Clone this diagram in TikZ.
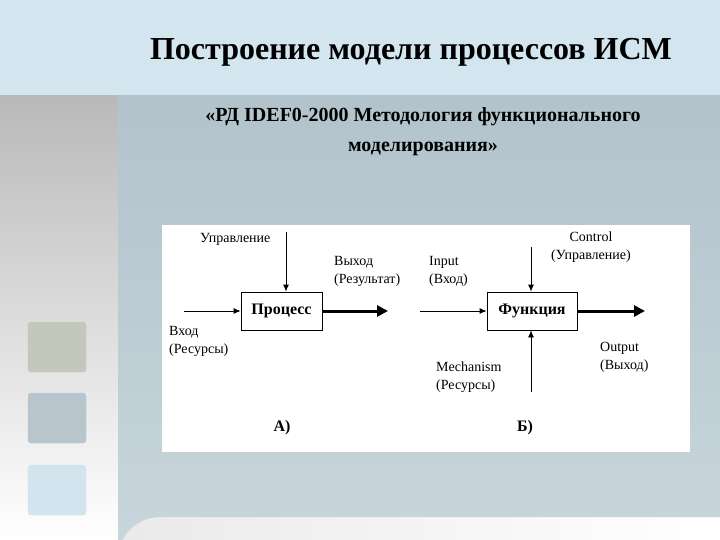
\documentclass[tikz,border=0pt]{standalone}
\usepackage{fontspec}
\setmainfont{Liberation Serif}
\usetikzlibrary{arrows.meta}
\definecolor{band}{HTML}{D3E6EF}
\definecolor{panel}{HTML}{B2C3CC}
\definecolor{panelL}{HTML}{C9D6DC}
\definecolor{sqA}{HTML}{C3C8BD}
\definecolor{sqB}{HTML}{B8C5CC}
\definecolor{sqC}{HTML}{D2E5EE}
\begin{document}
\begin{tikzpicture}[x=1pt,y=-1pt,
  lbl/.style={font=\fontsize{14}{18}\selectfont,align=left,inner sep=0pt},
  boxn/.style={draw,thick,minimum height=38pt,font=\bfseries\fontsize{16}{18}\selectfont,inner sep=0pt},
  thin arrow/.style={-{Latex[length=7pt,width=6pt]},thick},
  fat arrow/.style={-{Triangle[length=11pt,width=11pt]},line width=3pt},
  sq/.style={rounded corners=3pt,draw=gray!60}]
\useasboundingbox (0,0) rectangle (720,540);
\shade[left color=white!80!gray, right color=white] (0,0) rectangle (720,540);
\shade[top color=gray!55!white, bottom color=white] (0,95) rectangle (118,540);
\fill[band] (0,0) rectangle (720,95);
\shade[top color=panel, bottom color=panelL] (118,95) -- (720,95) -- (720,517) -- (160,517) arc (90:180:42pt) -- cycle;
\node[font=\bfseries\fontsize{32}{36}\selectfont] (title) at (411,52) {Построение модели процессов ИСМ};
\node[font=\bfseries\fontsize{20}{30}\selectfont,align=center] (sub) at (423,132) {«РД IDEF0-2000 Методология функционального\\моделирования»};
\fill[sq,sqA] (28,322) rectangle (86,372);
\fill[sq,sqB] (28,393) rectangle (86,443);
\fill[sq,sqC] (28,465) rectangle (86,515);
\fill[white] (162,225) rectangle (690,452);
% A
\node[boxn,minimum width=81pt] (proc) at (281.5,311) {Процесс};
\coordinate (pc) at (286,232);
\coordinate (pi) at (184,311);
\coordinate (po) at (388,311);
\draw[thin arrow] (pc) -- (pc|-proc.north);
\draw[thin arrow] (pi) -- (proc.west);
\draw[fat arrow] (proc.east) -- (po);
\node[lbl,anchor=west] (l1) at (200,239) {Управление};
\node[lbl,anchor=west] (l2) at (334,271) {Выход\\(Результат)};
\node[lbl,anchor=west] (l3) at (169,341) {Вход\\(Ресурсы)};
\node[font=\bfseries\fontsize{16}{18}\selectfont] (la) at (282,428) {А)};
% B
\node[boxn,minimum width=90pt] (func) at (532,311) {Функция};
\coordinate (fc) at (531,247);
\coordinate (fm) at (531,392);
\coordinate (fi) at (420,311);
\coordinate (fo) at (645,311);
\draw[thin arrow] (fc) -- (fc|-func.north);
\draw[thin arrow] (fm) -- (fm|-func.south);
\draw[thin arrow] (fi) -- (func.west);
\draw[fat arrow] (func.east) -- (fo);
\node[lbl,anchor=west] (l4) at (429,271) {Input\\(Вход)};
\node[lbl,align=center] (l5) at (591,247) {Control\\(Управление)};
\node[lbl,anchor=west] (l6) at (600,357) {Output\\(Выход)};
\node[lbl,anchor=west] (l7) at (436,377) {Mechanism\\(Ресурсы)};
\node[font=\bfseries\fontsize{16}{18}\selectfont] (lb) at (525,428) {Б)};
\end{tikzpicture}
\end{document}
